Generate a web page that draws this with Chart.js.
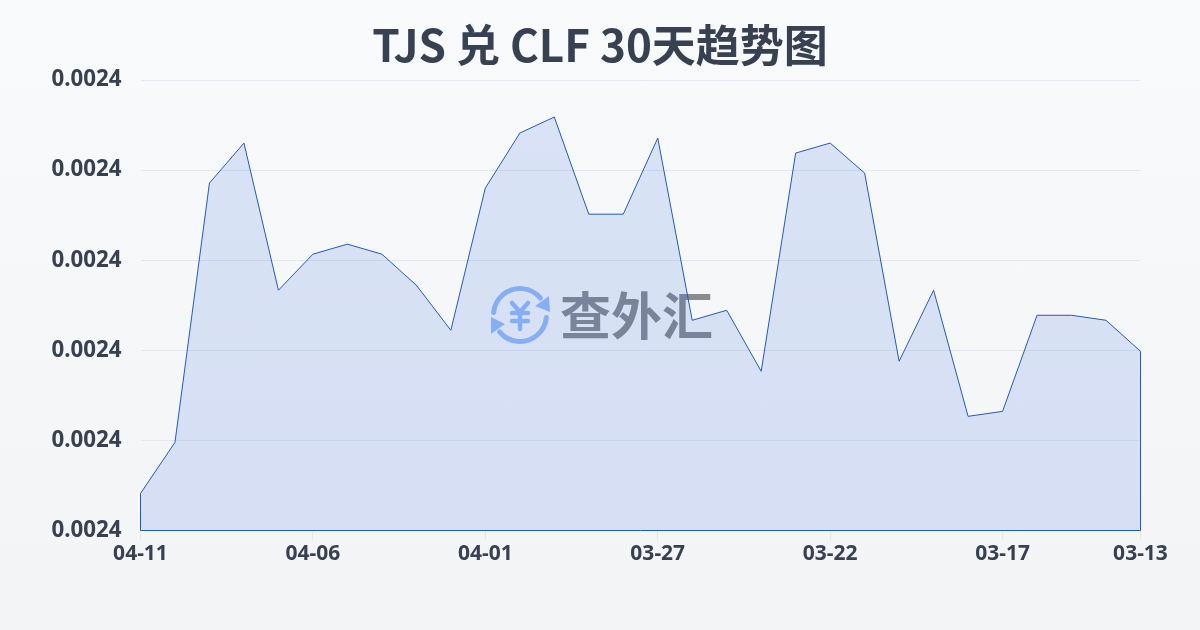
<!DOCTYPE html>
<html><head><meta charset="utf-8">
<style>
html,body{margin:0;padding:0;width:1200px;height:630px;overflow:hidden;background:linear-gradient(180deg,#f8fafc 0%,#f3f4f6 100%);}
#wrap{position:absolute;left:0;top:0;width:1200px;height:630px;}
</style>
<script src="https://cdn.jsdelivr.net/npm/chart.js@4"></script>
</head><body>
<div id="wrap"><canvas id="c" width="1200" height="630"></canvas></div>
<script>
const categories=["04-11","04-10","04-09","04-08","04-07","04-06","04-05","04-04","04-03","04-02","04-01","03-31","03-30","03-29","03-28","03-27","03-26","03-25","03-24","03-23","03-22","03-21","03-20","03-19","03-18","03-17","03-16","03-15","03-14","03-13"];
const rates=[0.00240411,0.00240978,0.00243856,0.00244300,0.00242667,0.00243067,0.00243178,0.00243067,0.00242722,0.00242222,0.00243800,0.00244411,0.00244589,0.00243511,0.00243511,0.00244356,0.00242333,0.00242444,0.00241767,0.00244189,0.00244300,0.00243967,0.00241878,0.00242667,0.00241267,0.00241322,0.00242389,0.00242389,0.00242333,0.00241989];
const xTickIndices=[0,5,10,15,20,25,29];
const yMin=0.0024,yMax=0.00245,yStep=0.00001;
const titleText="TJS 兑 CLF 30天趋势图";
const watermarkText="查外汇";
const LINE="#2259c4",FONT='"Noto Sans CJK SC",sans-serif',TICKFONT='"Noto Sans",sans-serif';

const outline={id:'outline',afterDatasetsDraw(chart){
  const pts=chart.getDatasetMeta(0).data,g=chart.ctx,y0=chart.scales.y.getPixelForValue(yMin);
  g.save();g.strokeStyle=LINE;g.lineWidth=1;g.beginPath();
  g.moveTo(pts[0].x,pts[0].y);g.lineTo(pts[0].x,y0);g.lineTo(pts[pts.length-1].x,y0);g.lineTo(pts[pts.length-1].x,pts[pts.length-1].y);
  g.stroke();g.restore();
}};
const watermark={id:'watermark',beforeDatasetsDraw(chart){
  const g=chart.ctx;g.save();
  g.fillStyle="#888b90";g.font='700 51px "Noto Sans CJK SC"';g.textAlign="left";g.textBaseline="middle";
  g.fillText(watermarkText,560,316);
  const blue="#96bcfa",cx=520,cy=315;
  g.strokeStyle=blue;g.lineWidth=5;g.lineCap="round";
  g.beginPath();g.arc(cx,cy,26.5,Math.PI*1.03,Math.PI*1.78);g.stroke();
  g.beginPath();g.arc(cx,cy,26.5,Math.PI*0.03,Math.PI*0.78);g.stroke();
  g.fillStyle=blue;
  g.beginPath();g.moveTo(549,296);g.lineTo(550,312);g.lineTo(535,306);g.closePath();g.fill();
  g.beginPath();g.moveTo(491,334);g.lineTo(491,317);g.lineTo(505,324);g.closePath();g.fill();
  g.lineWidth=4.5;
  g.beginPath();g.moveTo(512,303);g.lineTo(520,312);g.lineTo(528,303);g.moveTo(520,312);g.lineTo(520,329);
  g.moveTo(512,313);g.lineTo(528,313);g.moveTo(512,321);g.lineTo(528,321);g.stroke();
  g.restore();
}};
new Chart(document.getElementById('c'),{
  type:'line',
  data:{labels:categories,datasets:[{data:rates,borderColor:LINE,borderWidth:1,backgroundColor:"rgba(37,90,220,0.14)",fill:'start',pointRadius:0,tension:0}]},
  plugins:[watermark,outline],
  options:{
    responsive:false,animation:false,
    layout:{padding:0},
    plugins:{legend:{display:false},tooltip:{enabled:false},
      title:{display:true,text:titleText,color:"#374151",font:{family:FONT,size:44,weight:'700'},padding:{top:19.2,bottom:8}}},
    scales:{
      x:{offset:false,
        grid:{drawOnChartArea:false,drawTicks:true,tickLength:10,tickColor:"#e2e8f0"},
        border:{display:false},
        afterBuildTicks(s){s.ticks=s.ticks.filter(t=>xTickIndices.includes(t.value));},
        afterFit(s){s.height=99.5;},
        ticks:{autoSkip:false,maxRotation:0,minRotation:0,color:"#374151",padding:1,font:{family:TICKFONT,size:21,weight:'700'}}},
      y:{min:yMin,max:yMax,
        grid:{color:"#e2e8f0",lineWidth:1,drawTicks:false},
        border:{display:false},
        afterFit(s){s.width=140.5;},
        ticks:{stepSize:yStep,padding:19,color:"#374151",callback:v=>v.toFixed(4),font:{family:TICKFONT,size:22.3,weight:'700'}}},
      spacer:{position:'right',display:true,
        grid:{display:false},border:{display:false},ticks:{display:false},
        afterFit(s){s.width=59.5;}}
    }
  }
});
</script>
</body></html>
